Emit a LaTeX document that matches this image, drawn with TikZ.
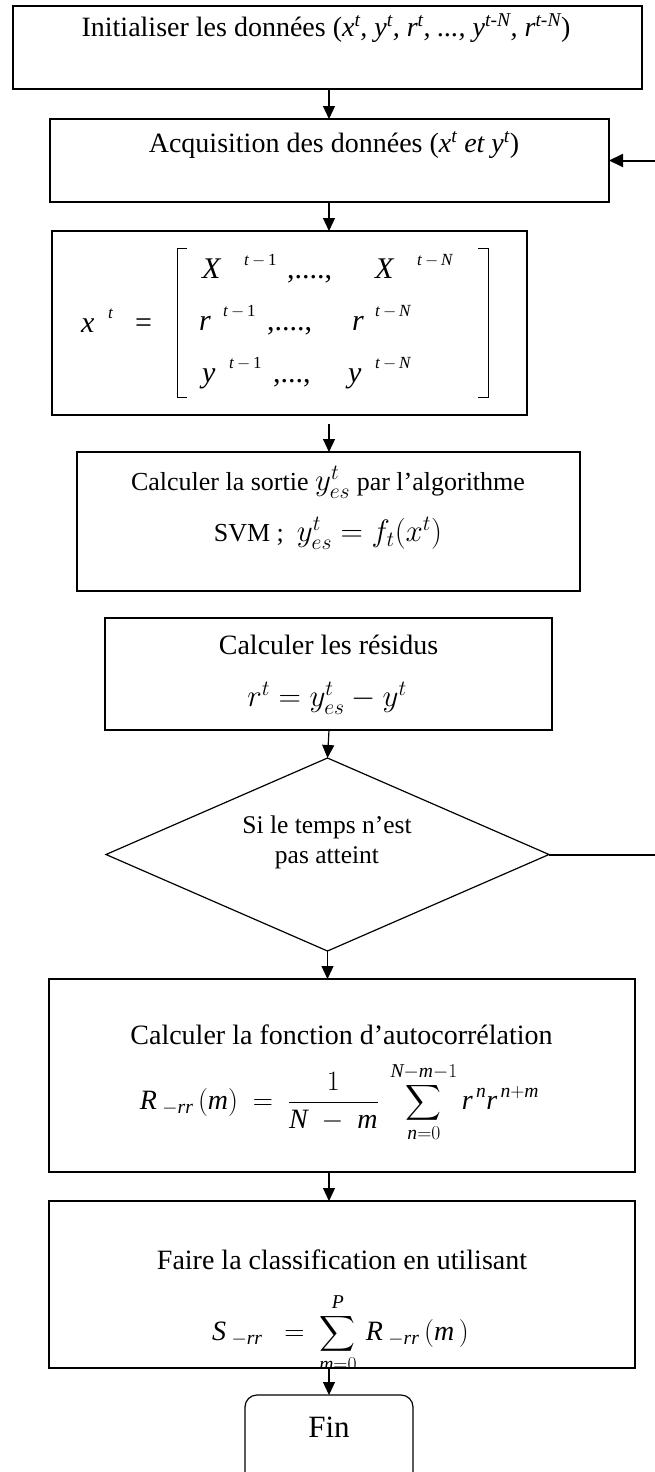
\RequirePackage{fix-cm}
\documentclass[tikz,border=0pt]{standalone}
\usepackage{amsmath}
\usepackage{fontspec}
\setmainfont{Liberation Serif}
\usetikzlibrary{arrows.meta,shapes.geometric}
\newcommand\tim[1]{\textit{#1}}
\newcommand\cmath[1]{{\fontsize{31}{34}\selectfont$#1$}}
\tikzset{
  box/.style={draw, line width=1.2pt, inner sep=0pt, outer sep=0pt},
  txt/.style={inner sep=0pt, align=center, font=\fontsize{28}{32}\selectfont},
  txtsm/.style={inner sep=0pt, align=center, font=\fontsize{26}{30}\selectfont},
  arr/.style={-{Triangle[length=13pt,width=12pt]}, line width=1.2pt},
  looparr/.style={-{Triangle[length=14pt,width=13pt]}, line width=2pt},
  mat/.style={inner sep=0pt, anchor=base west, font=\fontsize{30}{34}\selectfont\itshape},
  msup/.style={inner sep=0pt, anchor=base west, font=\fontsize{17}{20}\selectfont},
  brk/.style={line width=0.9pt},
}
\begin{document}
\begin{tikzpicture}[x=1pt,y=-1pt]
\useasboundingbox[fill=white] (0,0) rectangle (654,1472);
\coordinate (axis) at (329,0);

% boxes
\node[box, minimum width=629pt, minimum height=83pt] (b1) at (327.5,47.5) {};
\node[box, minimum width=559pt, minimum height=83pt] (b2) at (329.5,160.5) {};
\node[box, minimum width=475pt, minimum height=184pt] (b3) at (289.5,323) {};
\node[box, minimum width=503pt, minimum height=139pt] (b4) at (328.5,521.5) {};
\node[box, minimum width=447pt, minimum height=112pt] (b5) at (328.5,674) {};
\node[box, diamond, minimum width=443pt, minimum height=193pt] (dec) at (327.5,854.5) {};
\node[box, minimum width=586pt, minimum height=193pt] (b6) at (342,1075.5) {};
\node[box, minimum width=586pt, minimum height=167pt] (b7) at (342,1284.5) {};
\node[box, rounded corners=12pt, minimum width=168pt, minimum height=95pt] (fin) at (329,1442.5) {};

% texts
\node[txt] (t1) at (326,28) {Initialiser les données (\textit{x\textsuperscript{t}, y\textsuperscript{t}, r\textsuperscript{t}, ..., y\textsuperscript{t-N}, r\textsuperscript{t-N}})};
\node[txt] (t2) at (334,145) {Acquisition des données (\textit{x\textsuperscript{t} et y\textsuperscript{t}})};

% matrix
\node[mat] (xt) at (81,332) {x};
\node[msup] (xts) at (108,318) {\textit{t}};
\node[mat, font=\fontsize{30}{34}\selectfont] (eq) at (135,332) {=};
\node[mat] (m11) at (202,278) {X};
\node[msup] (m11s) at (244,265) {\textit{t}\,$-$\,1};
\node[mat, font=\fontsize{30}{34}\selectfont] (m1c) at (287,278) {,....,};
\node[mat] (m12) at (375,278) {X};
\node[msup] (m12s) at (417,265) {\textit{t}\,$-$\,\textit{N}};
\node[mat] (m21) at (199,330) {r};
\node[msup] (m21s) at (223,316) {\textit{t}\,$-$\,1};
\node[mat, font=\fontsize{30}{34}\selectfont] (m2c) at (267,330) {,....,};
\node[mat] (m22) at (352,330) {r};
\node[msup] (m22s) at (375,316) {\textit{t}\,$-$\,\textit{N}};
\node[mat] (m31) at (202,382) {y};
\node[msup] (m31s) at (229,368) {\textit{t}\,$-$\,1};
\node[mat, font=\fontsize{30}{34}\selectfont] (m3c) at (273,382) {,...,};
\node[mat] (m32) at (348,382) {y};
\node[msup] (m32s) at (375,368) {\textit{t}\,$-$\,\textit{N}};
\draw[brk] (187,248) -- (177,248) -- (177,397) -- (187,397);
\draw[brk] (478,248) -- (488,248) -- (488,397) -- (478,397);

\node[txtsm] (t4a) at (328,482) {Calculer la sortie \cmath{y^{t}_{es}} par l’algorithme};
\node[txtsm] (t4b) at (328,533) {SVM ;\ \ \cmath{y^{t}_{es}=f_{t}(x^{t})}};

\node[txt] (t5a) at (328.5,645) {Calculer les résidus};
\node[txt] (t5b) at (327,698) {\cmath{r^{t}=y^{t}_{es}-y^{t}}};

\node[inner sep=0pt, align=center, font=\fontsize{25.5}{30}\selectfont] (tdec) at (327,842) {Si le temps n’est\\pas atteint};

\node[txt] (t6a) at (341.5,1035) {Calculer la fonction d’autocorrélation};
\node[txt] (f6) at (339.5,1102) {$\displaystyle \tim{R}_{\;-\tim{rr}}\,(\tim{m})\ =\ \frac{1}{\tim{N}\;-\;\tim{m}}\ \sum_{\tim{n}=0}^{\tim{N}-\tim{m}-1}\tim{r}^{\,\tim{n}}\tim{r}^{\,\tim{n}+\tim{m}}$};

\node[txt] (t7a) at (342,1260) {Faire la classification en utilisant};
\begin{scope}
\clip (b7.south west) rectangle (b7.north east);
\node[txt] (f7) at (340.5,1333) {$\displaystyle \tim{S}_{\;-\tim{rr}}\ \ =\ \sum_{\tim{m}=0}^{\tim{P}}\,\tim{R}_{\;-\tim{rr}}\,(\tim{m}\,)$};
\end{scope}

\node[inner sep=0pt, font=\fontsize{31}{36}\selectfont] (tfin) at (329,1427) {Fin};

% connectors
\draw[arr] (b1.south -| axis) -- (b2.north -| axis);
\draw[arr] (b2.south -| axis) -- (b3.north -| axis);
\draw[arr] ([yshift=-9pt]b3.south -| axis) -- (b4.north -| axis);
\draw[arr] (b5.south -| axis) -- (dec.north);
\draw[arr] (dec.south) -- (b6.north -| dec.south);
\draw[arr] (b6.south -| axis) -- (b7.north -| axis);
\draw[arr] (b7.south -| axis) -- (fin.north);
\draw[looparr] (dec.east) -- ++(111,0) |- (b2.east);
\end{tikzpicture}
\end{document}
